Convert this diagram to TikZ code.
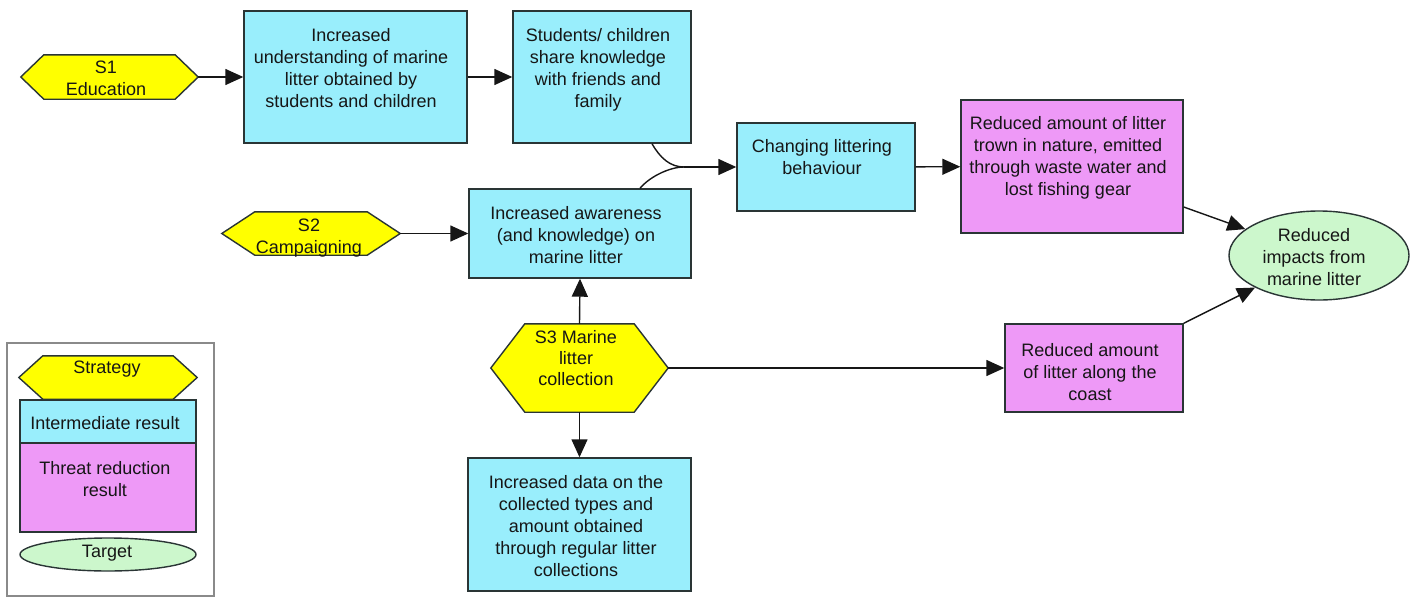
\documentclass[tikz,border=0pt]{standalone}
\usepackage{fontspec}
\setmainfont{Liberation Sans}
\usetikzlibrary{arrows.meta,shapes.geometric}

\definecolor{irfill}{HTML}{99EEFC}
\definecolor{trfill}{HTML}{EE99F7}
\definecolor{stfill}{HTML}{FFFF00}
\definecolor{tgfill}{HTML}{CCF7CC}
\definecolor{edge}{HTML}{2A3535}
\definecolor{ink}{HTML}{161616}
\definecolor{frame}{HTML}{8A8A8A}

% hexagon outline for a strategy, drawn round a named rectangle node
\newcommand\hexround[2]{%
  \filldraw[hexline] (#1.west) -- ([xshift=#2]#1.north west) -- ([xshift=-#2]#1.north east)
    -- (#1.east) -- ([xshift=-#2]#1.south east) -- ([xshift=#2]#1.south west) -- cycle;}

\begin{document}
\begin{tikzpicture}[x=1pt,y=-1pt,
  ir/.style={draw=edge, fill=irfill, line width=1.4pt, rectangle, inner sep=0pt},
  tr/.style={draw=edge, fill=trfill, line width=1.4pt, rectangle, inner sep=0pt},
  tg/.style={draw=edge, fill=tgfill, line width=1.4pt, ellipse, inner sep=0pt},
  hexbox/.style={rectangle, inner sep=0pt},
  hexline/.style={draw=edge, fill=stfill, line width=1.4pt, line join=miter},
  txt/.style={align=center, anchor=north, inner sep=0pt, text=ink,
              font=\fontsize{18}{22}\selectfont},
  wire/.style={draw=ink, line width=1.4pt},
  arr/.style={wire, -{Triangle[length=18pt,width=16pt]}}
]
\useasboundingbox (0,0) rectangle (1414,597);

% ---- strategies (hexagons)
\node[hexbox, minimum width=177pt, minimum height=44pt] (s1) at (109.5,77) {};
\hexround{s1}{23pt}
\node[txt] (s1t) at (106,60.5) {S1\\Education};

\node[hexbox, minimum width=178pt, minimum height=43pt] (s2) at (311,233.5) {};
\hexround{s2}{33pt}
\node[txt] (s2t) at (309,218.5) {S2\\Campaigning};

\node[hexbox, minimum width=177pt, minimum height=88pt] (s3) at (579.5,368) {};
\hexround{s3}{34pt}
\node[txt, font=\fontsize{18}{21}\selectfont] (s3t) at (576,330.5) {S3 Marine\\litter\\collection};

% ---- intermediate results
\node[ir, minimum width=223pt, minimum height=132pt] (b1) at (355.5,77) {};
\node[txt] (b1t) at (351,28.5) {Increased\\understanding of marine\\litter obtained by\\students and children};

\node[ir, minimum width=178pt, minimum height=132pt] (b2) at (602,77) {};
\node[txt] (b2t) at (598,28.5) {Students/ children\\share knowledge\\with friends and\\family};

\node[ir, minimum width=178pt, minimum height=88pt] (b3) at (826,167) {};
\node[txt] (b3t) at (822,139.5) {Changing littering\\behaviour};

\node[ir, minimum width=222pt, minimum height=89pt] (b5) at (580,233.5) {};
\node[txt] (b5t) at (576,206.5) {Increased awareness\\(and knowledge) on\\marine litter};

\node[ir, minimum width=223pt, minimum height=133pt] (b7) at (579.5,524.5) {};
\node[txt] (b7t) at (576,475.5) {Increased data on the\\collected types and\\amount obtained\\through regular litter\\collections};

% ---- threat reduction results
\node[tr, minimum width=222pt, minimum height=133pt] (b4) at (1072,166.5) {};
\node[txt] (b4t) at (1068,116.5) {Reduced amount of litter\\trown in nature, emitted\\through waste water and\\lost fishing gear};

\node[tr, minimum width=178pt, minimum height=88pt] (b6) at (1094,368) {};
\node[txt] (b6t) at (1090,343.5) {Reduced amount\\of litter along the\\coast};

% ---- target
\node[tg, minimum width=180pt, minimum height=89pt] (tgt) at (1319,255.5) {};
\node[txt] (tgtt) at (1314,228.5) {Reduced\\impacts from\\marine litter};

% ---- connectors
\coordinate (m) at (684,167);
\draw[arr] (s1) -- (b1);
\draw[arr] (b1) -- (b2);
\draw[wire] ([xshift=50pt]b2.south) .. controls +(8,14) and +(-14,0) .. (m);
\draw[wire] ([xshift=60pt]b5.north) .. controls +(10,-12) and +(-14,0) .. (m);
\draw[arr] (m) -- (b3.west);
\draw[arr] (s2) -- (b5);
\draw[arr] (b3) -- (b4);
\draw[arr] ([yshift=-40.5pt]b4.east) -- (tgt);
\draw[arr] (b6.north east) -- (tgt);
\draw[arr] (s3.north) -- (b5.south);
\draw[arr] (s3.south) -- (b7.north);
\draw[arr] (s3.east) -- (b6.west);

% ---- legend
\node[draw=frame, line width=1.3pt, rectangle, inner sep=0pt,
      minimum width=207pt, minimum height=253pt] (legend) at (110.5,469.5) {};
\node[hexbox, minimum width=178pt, minimum height=43pt] (ls) at (108,377.5) {};
\hexround{ls}{24pt}
\node[txt] (lst) at (107,360.5) {Strategy};
\node[ir, minimum width=176pt, minimum height=43pt] (li) at (108,421.5) {};
\node[txt] (lit) at (105,416.5) {Intermediate result};
\node[tr, minimum width=176pt, minimum height=89pt] (lt) at (108,487.5) {};
\node[txt] (ltt) at (105,461.5) {Threat reduction\\result};
\node[tg, minimum width=176pt, minimum height=33pt] (lg) at (108,554.5) {};
\node[txt] (lgt) at (107,544.5) {Target};
\end{tikzpicture}
\end{document}
